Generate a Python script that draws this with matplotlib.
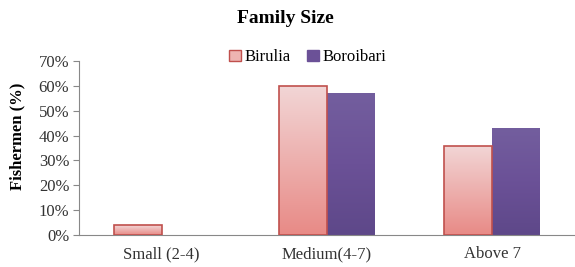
import matplotlib.pyplot as plt
import numpy as np
from matplotlib.colors import LinearSegmentedColormap
from matplotlib.patches import Patch

categories = ['Small (2-4)', 'Medium(4-7)', 'Above 7']
birulia = [4, 60, 36]
boroibari = [0, 57, 43]
series_names = ['Birulia', 'Boroibari']

plt.rcParams['font.family'] = ['Liberation Serif', 'DejaVu Serif']

fig = plt.figure(figsize=(5.75, 2.67), dpi=100)
ax = fig.add_axes([0.1374, 0.1199, 0.862, 0.6516])

x = np.arange(len(categories))
w = 0.29

pink = LinearSegmentedColormap.from_list('pink', ['#e88a86', '#f2d6d6'])
purple = LinearSegmentedColormap.from_list('purple', ['#5e4889', '#6b5197', '#735e9e'])

bars1 = ax.bar(x - w / 2, birulia, w, facecolor='none', edgecolor='#c0504d', linewidth=1.2, zorder=3)
bars2 = ax.bar(x + w / 2, boroibari, w, facecolor='none', edgecolor='none', zorder=3)

grad = np.linspace(0, 1, 256).reshape(-1, 1)
for bars, cmap in [(bars1, pink), (bars2, purple)]:
    for b in bars:
        h = b.get_height()
        if h <= 0:
            continue
        x0 = b.get_x()
        im = ax.imshow(grad, cmap=cmap, origin='lower', aspect='auto',
                       extent=[x0, x0 + b.get_width(), 0, h], zorder=2)
        im.set_clip_path(b)

ax.set_xlim(-0.5, 2.5)
ax.set_ylim(0, 70)
ax.set_yticks(range(0, 71, 10))
ax.set_yticklabels([f'{v}%' for v in range(0, 71, 10)], fontsize=12, color='#333333')
ax.set_xticks(x)
ax.set_xticklabels(categories, fontsize=12, color='#333333')
ax.tick_params(axis='x', length=0, pad=8)
ax.tick_params(axis='y', length=4, direction='out', color='#888888', pad=3)

for s in ['top', 'right']:
    ax.spines[s].set_visible(False)
ax.spines['left'].set_color('#888888')
ax.spines['bottom'].set_color('#888888')

ax.set_ylabel('Fishermen (%)', fontsize=12, fontweight='bold')
ax.yaxis.set_label_coords(-0.108, 0.57)
fig.text(0.496, 0.93, 'Family Size', ha='center', va='center', fontsize=14, fontweight='bold')

handles = [Patch(facecolor='#eeb4b2', edgecolor='#c0504d', label=series_names[0]),
           Patch(facecolor='#6b5197', edgecolor='#6b5197', label=series_names[1])]
fig.legend(handles=handles, loc='center', bbox_to_anchor=(0.535, 0.785), ncol=2, frameon=False,
           fontsize=12, handlelength=0.7, handleheight=0.7, handletextpad=0.2, columnspacing=1.0)

fig.savefig('out.png', dpi=100)
